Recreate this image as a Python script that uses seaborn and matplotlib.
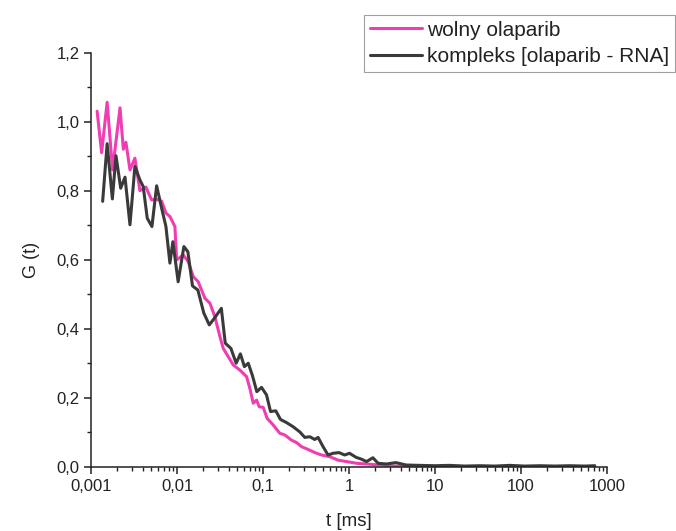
import numpy as np
import pandas as pd
import matplotlib
matplotlib.use("Agg")
import matplotlib.pyplot as plt
import seaborn as sns
from matplotlib.ticker import LogLocator, MultipleLocator, NullFormatter

# wolny olaparib (free drug)
t_free = [0.00117, 0.00132, 0.00153, 0.00177, 0.00216, 0.00236, 0.00253, 0.00282,
          0.00322, 0.00368, 0.00432, 0.00504, 0.00576, 0.00659, 0.00739, 0.00822,
          0.0094, 0.00984, 0.01175, 0.01343, 0.01535, 0.01754, 0.021, 0.024,
          0.0274, 0.0314, 0.0343, 0.0392, 0.0448, 0.0536, 0.0641, 0.07,
          0.0766, 0.0838, 0.0898, 0.1, 0.1113, 0.1307, 0.156, 0.1786,
          0.2138, 0.2445, 0.28, 0.3336, 0.399, 0.4775, 0.597, 0.745,
          0.933, 1.22, 1.59, 2.27, 3.25, 5.08, 8.7, 17, 33, 65, 97]
g_free = [1.03, 0.91, 1.056, 0.86, 1.04, 0.92, 0.94, 0.86,
          0.894, 0.80, 0.81, 0.773, 0.775, 0.769, 0.735, 0.725,
          0.696, 0.599, 0.614, 0.594, 0.551, 0.536, 0.488, 0.474,
          0.435, 0.377, 0.343, 0.319, 0.295, 0.28, 0.261, 0.227,
          0.184, 0.193, 0.174, 0.172, 0.14, 0.121, 0.097, 0.092,
          0.077, 0.07, 0.058, 0.05, 0.041, 0.034, 0.029, 0.019,
          0.015, 0.01, 0.008, 0.005, 0.002, 0.001, 0.0, 0.001, 0.0, 0.0, 0.0]

# kompleks [olaparib - RNA]
t_cplx = [0.001357, 0.00153, 0.00176, 0.00194, 0.0022, 0.00247, 0.00282, 0.00322,
          0.00368, 0.00402, 0.00448, 0.00508, 0.00576, 0.00659, 0.00739, 0.00822,
          0.0089, 0.01025, 0.01195, 0.0133, 0.01505, 0.01738, 0.0204, 0.0236,
          0.0274, 0.0326, 0.0362, 0.0421, 0.0485, 0.0543, 0.0605, 0.067,
          0.0748, 0.0843, 0.0956, 0.1094, 0.1217, 0.1402, 0.159, 0.1866,
          0.2228, 0.2665, 0.3048, 0.3482, 0.3978, 0.435, 0.4975, 0.5683,
          0.649, 0.762, 0.8872, 1.01, 1.21, 1.39, 1.59, 1.89,
          2.17, 2.71, 3.5, 4.6, 6.6, 9.9, 14.7, 22,
          33, 49.6, 74, 110, 165, 246, 367, 548, 720]
g_cplx = [0.769, 0.936, 0.776, 0.901, 0.807, 0.839, 0.701, 0.87,
          0.831, 0.812, 0.72, 0.696, 0.814, 0.749, 0.696, 0.59,
          0.652, 0.536, 0.638, 0.623, 0.524, 0.512, 0.445, 0.411,
          0.432, 0.459, 0.358, 0.343, 0.30, 0.327, 0.29, 0.30,
          0.265, 0.2175, 0.23, 0.208, 0.16, 0.162, 0.137, 0.128,
          0.116, 0.101, 0.085, 0.087, 0.079, 0.085, 0.058, 0.034,
          0.039, 0.041, 0.034, 0.039, 0.027, 0.022, 0.015, 0.026,
          0.01, 0.008, 0.012, 0.005, 0.004, 0.003, 0.004, 0.002,
          0.003, 0.002, 0.004, 0.002, 0.003, 0.002, 0.003, 0.002, 0.003]

x_ticks = [0.001, 0.01, 0.1, 1, 10, 100, 1000]
x_labels = ["0,001", "0,01", "0,1", "1", "10", "100", "1000"]
y_ticks = [0.0, 0.2, 0.4, 0.6, 0.8, 1.0, 1.2]
y_labels = ["0,0", "0,2", "0,4", "0,6", "0,8", "1,0", "1,2"]

sns.set_style("ticks")
plt.rcParams['font.family'] = ['Liberation Sans', 'DejaVu Sans']

fig = plt.figure(figsize=(6.76, 5.31), dpi=100)
ax = fig.add_axes([0.135, 0.121, 0.763, 0.780])

free = pd.DataFrame({'t': t_free, 'G': g_free})
cplx = pd.DataFrame({'t': t_cplx, 'G': g_cplx})

sns.lineplot(data=free, x='t', y='G', ax=ax, color='#F03DB2', lw=2.2,
             sort=False, estimator=None, label='wolny olaparib')
sns.lineplot(data=cplx, x='t', y='G', ax=ax, color='#3A3A3A', lw=2.2,
             sort=False, estimator=None, label='kompleks [olaparib - RNA]')

ax.set_xscale('log')
ax.set_xlim(0.001, 1000)
ax.set_ylim(0, 1.2)
ax.set_xticks(x_ticks, x_labels)
ax.set_yticks(y_ticks, y_labels)
ax.xaxis.set_minor_locator(LogLocator(base=10, subs=np.arange(2, 10), numticks=20))
ax.xaxis.set_minor_formatter(NullFormatter())
ax.yaxis.set_minor_locator(MultipleLocator(0.1))

for side in ['top', 'right']:
    ax.spines[side].set_visible(False)
for side in ['left', 'bottom']:
    ax.spines[side].set_linewidth(1.1)
    ax.spines[side].set_color('#222222')
ax.tick_params(which='major', length=5, width=1.1, labelsize=12, color='#222222',
               labelcolor='#222222')
ax.tick_params(which='minor', length=3, width=1.0, color='#222222')

ax.set_xlabel('t [ms]', fontsize=13.5, labelpad=14, color='#222222')
ax.set_ylabel('G (t)', fontsize=13, labelpad=12, color='#222222')

ax.get_legend().remove()
handles, labels = ax.get_legend_handles_labels()
leg = fig.legend(handles, labels, loc='upper right', bbox_to_anchor=(0.999, 0.972),
                 fontsize=15, frameon=True, fancybox=False, handlelength=2.5,
                 handletextpad=0.25, labelspacing=0.35, borderpad=0.28,
                 borderaxespad=0)
leg.get_frame().set_edgecolor('#888888')
leg.get_frame().set_linewidth(0.8)
for txt in leg.get_texts():
    txt.set_color('#222222')

fig.savefig('out.png', dpi=100)
